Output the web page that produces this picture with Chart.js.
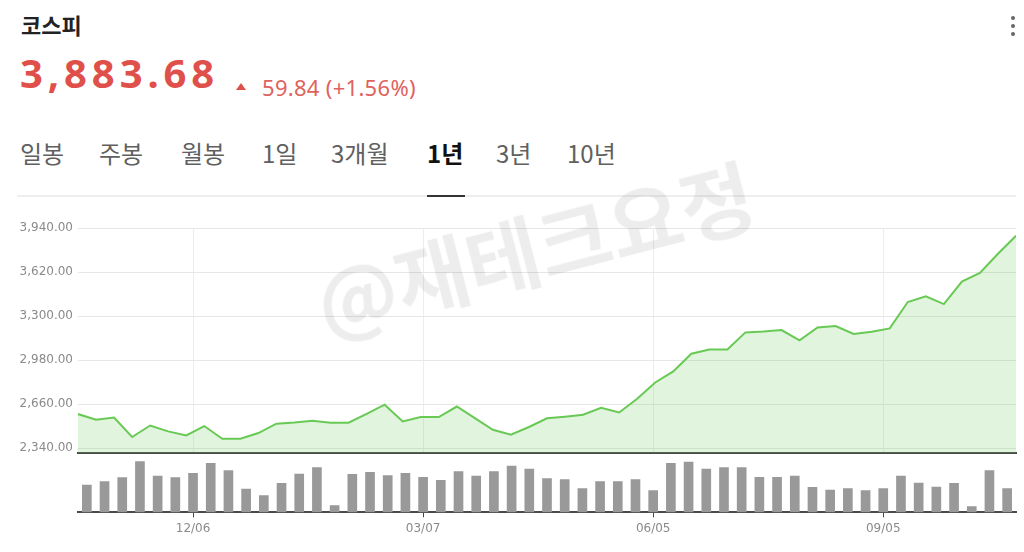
<!DOCTYPE html>
<html lang="ko">
<head>
<meta charset="utf-8">
<title>코스피 1년</title>
<script src="https://cdn.jsdelivr.net/npm/chart.js@4.4.1/dist/chart.umd.min.js"></script>
<style>
  html, body { margin: 0; padding: 0; background: #fff; }
  body { width: 1024px; height: 552px; position: relative; overflow: hidden;
         font-family: "Noto Sans CJK KR", "Noto Sans", sans-serif; }
  .abs { position: absolute; white-space: nowrap; line-height: 1; }
  #title { left: 21px; top: 13px; font-size: 22px; font-weight: 700; color: #222; }
  #price { left: 20px; top: 53px; font-family: "Noto Sans", sans-serif; font-size: 40px;
           font-weight: 700; color: #df504b; letter-spacing: 4.9px; }
  #arrow { left: 236px; top: 83px; width: 0; height: 0; border-left: 5px solid transparent;
           border-right: 5px solid transparent; border-bottom: 7px solid #df504b; }
  #change { left: 262px; top: 76px; font-family: "Noto Sans", sans-serif; font-size: 22px;
            color: #e0625e; letter-spacing: 0.3px; }
  .tab { top: 141px; font-size: 24px; color: #606060; }
  .tab.on { color: #111; font-weight: 700; }
  #underline { left: 427px; top: 195px; width: 38px; height: 2px; background: #333; }
  #sep { left: 17px; top: 195px; width: 999px; height: 2px; background: #eeeeee; }
  .dot { left: 1011px; width: 4px; height: 4px; border-radius: 2px; background: #666; }
  #priceChart { position: absolute; left: 0; top: 200px; }
  #volumeChart { position: absolute; left: 0; top: 455px; }
  #mark { left: 534px; top: 245px; font-size: 80px; font-weight: 700; color: rgba(0,0,0,0.07);
          transform: translate(-50%, -50%) rotate(-14.5deg); pointer-events: none; z-index: 5; }
</style>
</head>
<body>
<div class="abs" id="title">코스피</div>
<div class="abs" id="price">3,883.68</div>
<div class="abs" id="arrow"></div>
<div class="abs" id="change">59.84 (+1.56%)</div>

<div class="abs tab" style="left:20px">일봉</div>
<div class="abs tab" style="left:99px">주봉</div>
<div class="abs tab" style="left:181px">월봉</div>
<div class="abs tab" style="left:262px">1일</div>
<div class="abs tab" style="left:331px">3개월</div>
<div class="abs tab on" style="left:427px">1년</div>
<div class="abs tab" style="left:496px">3년</div>
<div class="abs tab" style="left:567px">10년</div>
<div class="abs" id="sep"></div>
<div class="abs" id="underline"></div>

<div class="abs dot" style="top:16px"></div>
<div class="abs dot" style="top:24px"></div>
<div class="abs dot" style="top:32px"></div>

<canvas id="priceChart" width="1024" height="260"></canvas>
<canvas id="volumeChart" width="1024" height="80"></canvas>
<div class="abs" id="mark">@재테크요정</div>

<script>
// 주간 종가 (1년, 53주)
const closes = [2587, 2546, 2562, 2420, 2504, 2461, 2432, 2500, 2408, 2408,
                2449, 2517, 2526, 2538, 2524, 2524, 2589, 2655, 2533, 2565,
                2565, 2642, 2558, 2473, 2437, 2493, 2556, 2568, 2582, 2633,
                2599, 2699, 2817, 2897, 3026, 3057, 3057, 3181, 3188, 3198,
                3123, 3217, 3227, 3169, 3186, 3210, 3402, 3443, 3387, 3550,
                3613, 3753, 3883.68];
// 주간 거래량 (상대값)
const volumes = [27.3, 30.6, 34.6, 50.6, 36.3, 34.6, 39.0, 49.0, 41.6, 23.3,
                 16.6, 29.0, 38.3, 44.6, 6.6, 38.0, 40.0, 36.6, 39.0, 35.0,
                 32.0, 40.6, 36.3, 40.6, 46.3, 43.3, 33.6, 32.6, 23.6, 30.6,
                 30.6, 32.6, 21.6, 49.0, 50.3, 43.3, 44.6, 44.6, 35.0, 35.0,
                 36.3, 25.0, 22.3, 23.6, 21.6, 23.6, 36.3, 29.3, 25.3, 29.0,
                 5.6, 41.6, 23.6];
const tickLabels = ['12/06', '03/07', '06/05', '09/05'];
const tickWeeks = [6, 19, 32, 45];
const yTicks = [2340, 2660, 2980, 3300, 3620, 3940];

const weeks = volumes.length;
const labelFont = { family: 'DejaVu Sans', size: 12 };
const weekTicks = s => { s.ticks = tickWeeks.map(w => ({ value: w + 0.5 })); };

// 가격 차트
new Chart(document.getElementById('priceChart'), {
  type: 'line',
  data: {
    datasets: [{
      data: closes.map((v, i) => ({ x: i * weeks / (closes.length - 1), y: v })),
      borderColor: '#69c955',
      borderWidth: 2,
      backgroundColor: 'rgba(105, 201, 85, 0.2)',
      fill: 'start',
      pointRadius: 0,
      tension: 0
    }]
  },
  options: {
    responsive: false,
    animation: false,
    layout: { padding: { top: 28, right: 8, bottom: 7, left: 0 } },
    plugins: { legend: { display: false }, tooltip: { enabled: false } },
    scales: {
      x: {
        type: 'linear', min: 0, max: weeks,
        afterBuildTicks: weekTicks,
        afterFit: s => { s.height = 0; s.paddingLeft = 0; s.paddingRight = 0; },
        ticks: { display: false },
        grid: { color: '#eaeef3', drawTicks: false },
        border: { color: '#4a4a4a', width: 2 }
      },
      y: {
        min: 2304, max: 3940,
        afterBuildTicks: s => { s.ticks = yTicks.map(v => ({ value: v })); },
        afterFit: s => { s.width = 78; s.paddingTop = 0; s.paddingBottom = 0; },
        ticks: {
          color: '#8a8a8a', font: labelFont, padding: 5,
          callback: v => v.toLocaleString('en-US', { minimumFractionDigits: 2, maximumFractionDigits: 2 })
        },
        grid: { color: '#e6e6e6', drawTicks: false },
        border: { display: false }
      }
    }
  }
});

// 거래량 차트
new Chart(document.getElementById('volumeChart'), {
  type: 'bar',
  data: {
    datasets: [{
      data: volumes.map((v, j) => ({ x: j + 0.5, y: v })),
      backgroundColor: '#999999',
      barThickness: 9
    }]
  },
  options: {
    responsive: false,
    animation: false,
    layout: { padding: { top: 3, right: 8, bottom: 0, left: 78 } },
    plugins: { legend: { display: false }, tooltip: { enabled: false } },
    scales: {
      x: {
        type: 'linear', min: 0, max: weeks, offset: false,
        afterBuildTicks: weekTicks,
        afterFit: s => { s.height = 22.7; s.paddingLeft = 0; s.paddingRight = 0; },
        ticks: { color: '#8a8a8a', font: labelFont, padding: 4, maxRotation: 0, autoSkip: false,
                 callback: (v, i) => tickLabels[i] },
        grid: { offset: false, drawOnChartArea: false, tickLength: 5, color: '#444' },
        border: { color: '#4a4a4a', width: 2 }
      },
      y: { display: false, min: 0, max: 54.3 }
    }
  }
});
</script>
</body>
</html>
